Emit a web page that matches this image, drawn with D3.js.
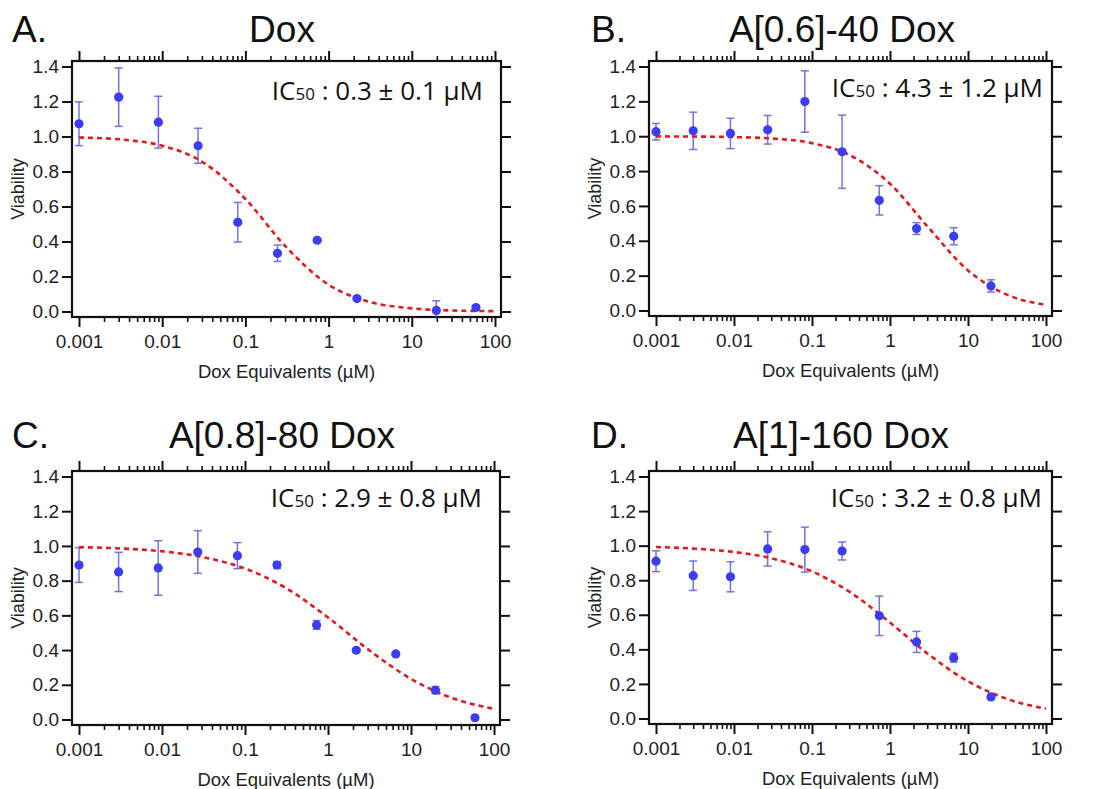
<!DOCTYPE html>
<html>
<head>
<meta charset="utf-8">
<script src="https://cdn.jsdelivr.net/npm/d3@7"></script>
<style>
  html, body { margin: 0; padding: 0; background: #fff; }
  svg { display: block; }
</style>
</head>
<body>
<div id="wrapper"></div>
<script>
// 0. Data
const conc = [0.001, 0.003, 0.009, 0.027, 0.081, 0.243, 0.729, 2.19, 6.56, 19.7, 59.0]

const doxViab = [1.073, 1.225, 1.082, 0.947, 0.510, 0.333, 0.407, 0.074, null, 0.006, 0.023]
const doxErr  = [0.125, 0.167, 0.148, 0.100, 0.113, 0.047, 0.010, 0.010, null, 0.055, 0.010]

const a06Viab = [1.026, 1.031, 1.016, 1.037, 1.199, 0.911, 0.632, 0.470, 0.426, 0.141]
const a06Err  = [0.047, 0.107, 0.087, 0.082, 0.176, 0.210, 0.084, 0.034, 0.049, 0.035]

const a08Viab = [0.890, 0.850, 0.873, 0.965, 0.944, 0.890, 0.545, 0.399, 0.378, 0.169, 0.010]
const a08Err  = [0.100, 0.113, 0.157, 0.123, 0.075, 0.020, 0.025, 0.010, 0.008, 0.020, 0.010]

const a1Viab = [0.910, 0.826, 0.820, 0.981, 0.977, 0.969, 0.594, 0.443, 0.352, 0.125]
const a1Err  = [0.060, 0.085, 0.087, 0.099, 0.130, 0.052, 0.114, 0.061, 0.026, 0.010]

// fitted curves
const fitX   = [0.001, 0.003, 0.01, 0.03, 0.1, 0.3, 1, 3, 10, 30, 100]
const doxFit = [0.994, 0.984, 0.947, 0.857, 0.643, 0.375, 0.153, 0.057, 0.018, 0.006, 0.002]
const a06Fit = [0.999, 0.998, 0.995, 0.987, 0.960, 0.893, 0.727, 0.484, 0.230, 0.095, 0.032]
const a08Fit = [0.993, 0.986, 0.969, 0.937, 0.870, 0.762, 0.588, 0.406, 0.234, 0.127, 0.061]
const a1Fit  = [0.992, 0.983, 0.963, 0.927, 0.851, 0.734, 0.555, 0.377, 0.215, 0.117, 0.056]

const letters = ["A.", "B.", "C.", "D."]
const titles = ["Dox", "A[0.6]-40 Dox", "A[0.8]-80 Dox", "A[1]-160 Dox"]
const ic50 = ["0.3 \u00b1 0.1", "4.3 \u00b1 1.2", "2.9 \u00b1 0.8", "3.2 \u00b1 0.8"]

const xTicks = [0.001, 0.01, 0.1, 1, 10, 100]
const xTickLabels = ["0.001", "0.01", "0.1", "1", "10", "100"]
const yTicks = [0, 0.2, 0.4, 0.6, 0.8, 1.0, 1.2, 1.4]

const panels = [
  { viab: doxViab, err: doxErr, fit: doxFit },
  { viab: a06Viab, err: a06Err, fit: a06Fit },
  { viab: a08Viab, err: a08Err, fit: a08Fit },
  { viab: a1Viab,  err: a1Err,  fit: a1Fit },
]

// layout (frame boxes in page pixels)
const frames = [
  { x0: 72,  x1: 501,  y0: 61,  y1: 317, icX: 483,  icY: 100, letterX: 12,  titleX: 282, titleY: 42 },
  { x0: 649, x1: 1052, y0: 61,  y1: 316, icX: 1043, icY: 97,  letterX: 591, titleX: 842, titleY: 42 },
  { x0: 72,  x1: 500,  y0: 471, y1: 725, icX: 482,  icY: 507, letterX: 12,  titleX: 282, titleY: 448 },
  { x0: 649, x1: 1052, y0: 471, y1: 724, icX: 1042, icY: 507, letterX: 591, titleX: 841, titleY: 448 },
]

const minorTicks = []
for (let e = -3; e < 2; e++) {
  for (let m = 2; m <= 9; m++) minorTicks.push(m * Math.pow(10, e))
}

const blue = "#3c3cf2"
const barBlue = "#5a5ae6"
const red = "#e3191e"
const sans = "'Liberation Sans', Arial, Helvetica, sans-serif"

// 1. Canvas
const svg = d3.select("#wrapper")
  .append("svg")
    .attr("width", 1093)
    .attr("height", 789)

panels.forEach((p, i) => drawPanel(p, frames[i], i))

function drawPanel(p, f, i) {
  const g = svg.append("g")

  const xScale = d3.scaleLog()
    .domain([0.001, 100])
    .range([f.x0 + 7, f.x1 - 6])

  const yScale = d3.scaleLinear()
    .domain([0, 1.4])
    .range([f.y1 - 5.5, f.y0 + 5.5])

  const clipId = "clip" + i
  svg.append("clipPath").attr("id", clipId)
    .append("rect")
      .attr("x", f.x0).attr("y", f.y0)
      .attr("width", f.x1 - f.x0).attr("height", f.y1 - f.y0)

  // axes
  const bottomMajor = d3.axisBottom(xScale).tickValues(xTicks)
    .tickFormat((d, k) => xTickLabels[k]).tickSize(10).tickPadding(8)
  const bottomMinor = d3.axisBottom(xScale).tickValues(minorTicks)
    .tickFormat("").tickSize(5)
  const topMajor = d3.axisTop(xScale).tickValues(xTicks).tickFormat("").tickSize(10)
  const topMinor = d3.axisTop(xScale).tickValues(minorTicks).tickFormat("").tickSize(5)
  const leftAxis = d3.axisLeft(yScale).tickValues(yTicks)
    .tickFormat(d3.format(".1f")).tickSize(10).tickPadding(3)
  const rightAxis = d3.axisRight(yScale).tickValues(yTicks).tickFormat("").tickSize(10)

  const axes = [
    [bottomMajor, `translate(0,${f.y1})`, 2],
    [bottomMinor, `translate(0,${f.y1})`, 1.6],
    [topMajor, `translate(0,${f.y0})`, 2],
    [topMinor, `translate(0,${f.y0})`, 1.6],
    [leftAxis, `translate(${f.x0},0)`, 2],
    [rightAxis, `translate(${f.x1},0)`, 2],
  ]
  axes.forEach(([gen, tr, sw]) => {
    const a = g.append("g").attr("transform", tr).call(gen)
    a.select(".domain").remove()
    a.selectAll(".tick line").attr("stroke", "#111").attr("stroke-width", sw)
    a.selectAll(".tick text")
      .attr("font-family", sans).attr("font-size", 19).attr("fill", "#222")
  })

  g.append("rect")
    .attr("x", f.x0).attr("y", f.y0)
    .attr("width", f.x1 - f.x0).attr("height", f.y1 - f.y0)
    .attr("fill", "none").attr("stroke", "#111").attr("stroke-width", 2.2)

  // fit curve
  const fitData = fitX.map((x, k) => ({ x: x, y: p.fit[k] }))
  const lineGen = d3.line()
    .x(d => xScale(d.x))
    .y(d => yScale(d.y))
    .curve(d3.curveMonotoneX)

  const plot = g.append("g").attr("clip-path", `url(#${clipId})`)

  // data points with error bars
  const pts = p.viab
    .map((v, k) => ({ x: conc[k], y: v, e: p.err[k] }))
    .filter(d => d.y != null)

  const bars = plot.selectAll(".eb").data(pts).enter().append("g")
    .attr("stroke", barBlue).attr("stroke-width", 1.5).attr("opacity", 0.85)
  bars.append("line")
    .attr("x1", d => xScale(d.x)).attr("x2", d => xScale(d.x))
    .attr("y1", d => yScale(d.y - d.e)).attr("y2", d => yScale(d.y + d.e))
  bars.append("line")
    .attr("x1", d => xScale(d.x) - 4).attr("x2", d => xScale(d.x) + 4)
    .attr("y1", d => yScale(d.y + d.e)).attr("y2", d => yScale(d.y + d.e))
  bars.append("line")
    .attr("x1", d => xScale(d.x) - 4).attr("x2", d => xScale(d.x) + 4)
    .attr("y1", d => yScale(d.y - d.e)).attr("y2", d => yScale(d.y - d.e))

  plot.append("path")
    .attr("d", lineGen(fitData))
    .attr("fill", "none")
    .attr("stroke", red)
    .attr("stroke-width", 2.6)
    .attr("stroke-dasharray", "5,4")

  plot.selectAll(".pt").data(pts).enter().append("circle")
    .attr("cx", d => xScale(d.x))
    .attr("cy", d => yScale(d.y))
    .attr("r", 4.6)
    .attr("fill", blue)

  // texts
  g.append("text")
    .attr("x", f.letterX).attr("y", f.titleY)
    .attr("font-family", sans).attr("font-size", 37).attr("fill", "#111")
    .text(letters[i])

  g.append("text")
    .attr("x", f.titleX).attr("y", f.titleY)
    .attr("text-anchor", "middle")
    .attr("font-family", sans).attr("font-size", 37).attr("fill", "#111")
    .text(titles[i])

  const ic = g.append("text")
    .attr("x", f.icX).attr("y", f.icY)
    .attr("text-anchor", "end")
    .attr("font-family", "'Open Sans', 'Noto Sans', sans-serif")
    .attr("font-size", 26).attr("fill", "#111")
  ic.append("tspan").text("IC")
  ic.append("tspan").attr("font-size", 17).text("50")
  ic.append("tspan").text(" : " + ic50[i] + " \u00b5M")

  g.append("text")
    .attr("transform", `translate(${f.x0 - 48},${(f.y0 + f.y1) / 2}) rotate(-90)`)
    .attr("text-anchor", "middle")
    .attr("font-family", sans).attr("font-size", 18).attr("fill", "#222")
    .text("Viability")

  g.append("text")
    .attr("x", (f.x0 + f.x1) / 2).attr("y", f.y1 + 61)
    .attr("text-anchor", "middle")
    .attr("font-family", sans).attr("font-size", 18.5).attr("fill", "#222")
    .text("Dox Equivalents (\u00b5M)")
}
</script>
</body>
</html>
